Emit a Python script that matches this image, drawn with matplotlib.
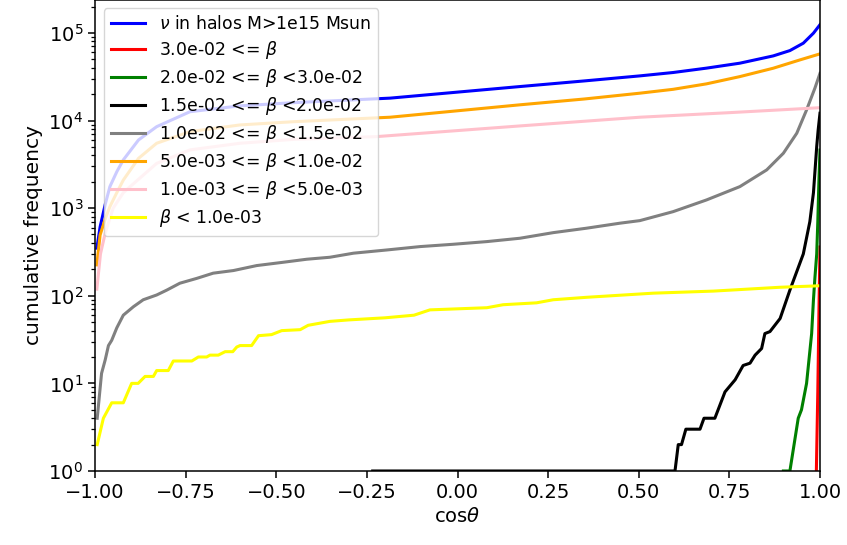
import matplotlib
matplotlib.use("Agg")
import matplotlib.pyplot as plt

# ---- data ----
labels = [r"$\nu$ in halos M>1e15 Msun",
          r"3.0e-02 <= $\beta$",
          r"2.0e-02 <= $\beta$ <3.0e-02",
          r"1.5e-02 <= $\beta$ <2.0e-02",
          r"1.0e-02 <= $\beta$ <1.5e-02",
          r"5.0e-03 <= $\beta$ <1.0e-02",
          r"1.0e-03 <= $\beta$ <5.0e-03",
          r"$\beta$ < 1.0e-03"]
colors = ["blue", "red", "green", "black", "gray", "orange", "pink", "yellow"]

blue_x = [-0.995, -0.986, -0.972, -0.959, -0.94, -0.922, -0.88, -0.83, -0.738, -0.6, -0.45,
          -0.186, 0.172, 0.35, 0.503, 0.595, 0.687, 0.779, 0.871, 0.917, 0.954, 0.982, 1.0]
blue_y = [349, 610, 1100, 1760, 2600, 3550, 6000, 8500, 12600, 14700, 16000,
          18000, 24400, 28300, 32300, 35300, 39600, 45100, 54600, 62800, 76300, 99300, 124000]

red_x = [0.990, 0.994, 0.997, 1.0]
red_y = [1, 8, 60, 360]

green_x = [0.899, 0.917, 0.940, 0.949, 0.963, 0.977, 0.982, 0.986, 0.991, 0.994, 0.997, 1.0]
green_y = [1, 1, 4, 5, 10, 37, 90, 160, 300, 700, 2000, 4600]

black_x = [-0.234, 0.600, 0.609, 0.618, 0.630, 0.669, 0.680, 0.710, 0.738, 0.766, 0.788,
           0.807, 0.821, 0.839, 0.848, 0.862, 0.890, 0.917, 0.954, 0.972, 0.982, 0.991,
           0.995, 1.0]
black_y = [1, 1, 2, 2, 3, 3, 4, 4, 8, 11, 16,
           17, 21, 25, 37, 39, 55, 116, 300, 700, 1500, 5050,
           7800, 12100]

gray_x = [-0.994, -0.982, -0.972, -0.963, -0.954, -0.940, -0.922, -0.894, -0.867, -0.830,
          -0.802, -0.766, -0.719, -0.674, -0.618, -0.554, -0.481, -0.416, -0.352, -0.287,
          -0.195, -0.103, -0.011, 0.081, 0.172, 0.264, 0.356, 0.448, 0.503, 0.595,
          0.687, 0.779, 0.853, 0.899, 0.936, 0.963, 0.986, 1.0]
gray_y = [4, 13, 18.5, 27, 31, 43, 60, 75, 90, 102,
          116, 139, 158, 181, 194, 221, 241, 261, 275, 306,
          333, 364, 387, 415, 453, 525, 590, 673, 720, 912,
          1240, 1760, 2730, 4230, 7160, 13200, 23400, 34500]

orange_x = [-0.995, -0.986, -0.972, -0.959, -0.94, -0.922, -0.88, -0.83, -0.738, -0.6, -0.45,
            -0.186, 0.172, 0.35, 0.503, 0.595, 0.687, 0.779, 0.871, 0.945, 1.0]
orange_y = [225, 494, 750, 1040, 1500, 2090, 3700, 5500, 7470, 8900, 9700,
            10900, 15100, 17600, 20500, 22700, 26200, 31700, 39500, 49200, 57600]

pink_x = [-0.995, -0.985, -0.972, -0.95, -0.922, -0.903, -0.83, -0.738, -0.6, -0.45,
          -0.223, 0.172, 0.503, 0.752, 1.0]
pink_y = [119, 300, 517, 1000, 1500, 1760, 3240, 4620, 5500, 6100,
          6550, 8670, 10900, 12300, 14000]

yellow_x = [-0.994, -0.977, -0.954, -0.922, -0.899, -0.881, -0.862, -0.839, -0.830, -0.798,
            -0.784, -0.733, -0.715, -0.692, -0.683, -0.660, -0.641, -0.620, -0.609, -0.600,
            -0.568, -0.549, -0.513, -0.485, -0.434, -0.412, -0.352, -0.30, -0.20, -0.12,
            -0.076, 0.081, 0.126, 0.218, 0.264, 0.356, 0.540, 0.706, 0.890, 1.0]
yellow_y = [2, 4, 6, 6, 10, 10, 12, 12, 14, 14,
            18, 18, 20, 20, 21, 21, 23, 23, 26, 27,
            27, 35, 36, 40, 41, 46, 51, 53, 56, 60,
            69, 73, 79, 83, 90, 96, 107, 113, 125, 130]

series = [(blue_x, blue_y), (red_x, red_y), (green_x, green_y), (black_x, black_y),
          (gray_x, gray_y), (orange_x, orange_y), (pink_x, pink_y), (yellow_x, yellow_y)]

# ---- figure ----
fig = plt.figure(figsize=(8.47, 5.45), dpi=100)
ax = fig.add_axes([0.1122, 0.1358, 0.8559, 0.8650])

for (xs, ys), c, lab in zip(series, colors, labels):
    ax.plot(xs, ys, color=c, lw=2.2, label=lab)

ax.set_yscale("log")
ax.set_xlim(-1, 1)
ax.set_ylim(1, 2.4e5)
ax.set_xlabel(r"cos$\theta$", fontsize=14)
ax.set_ylabel("cumulative frequency", fontsize=14.5)
ax.tick_params(labelsize=14, width=1.1, length=5)
ax.tick_params(which="minor", width=0.9, length=3)
for s in ax.spines.values():
    s.set_linewidth(1.1)
ax.legend(loc="upper left", fontsize=12.4, labelspacing=0.35)

fig.savefig("out.png", dpi=100)
